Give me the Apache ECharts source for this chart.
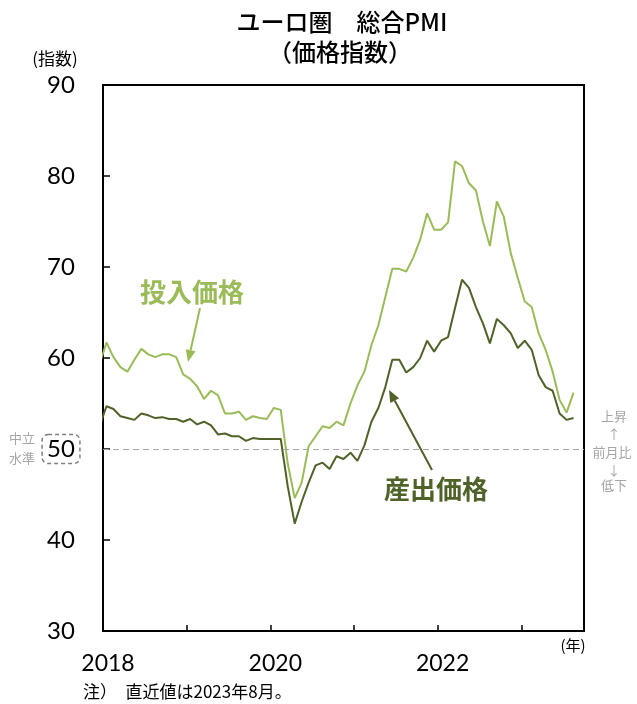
<!DOCTYPE html>
<html><head><meta charset="utf-8">
<script src="https://cdn.jsdelivr.net/npm/echarts@6/dist/echarts.min.js"></script>
<style>html,body{margin:0;padding:0;background:#fff}#c{width:637px;height:704px}</style>
</head><body><div id="c"></div>
<script>
// Monthly values from Dec 2017 (first entry, clipped at the axis) to Aug 2023
const firstMonthPos = -0.5;           // Dec 2017 on the month axis (Jan 2018 = 0.5)
const yearTickLabels = {0: '2018', 24: '2020', 48: '2022'};
const inputPrices = [
  59.3,
  61.7, 60.1, 59.0, 58.5, 59.8, 61.0, 60.4, 60.1, 60.4, 60.4, 60.1, 58.2,
  57.7, 56.9, 55.5, 56.4, 55.9, 53.9, 53.9, 54.1, 53.2, 53.6, 53.4, 53.3,
  54.5, 54.3, 48.4, 44.6, 46.3, 50.3, 51.4, 52.5, 52.3, 53.0, 52.6, 55.0,
  57.0, 58.5, 61.4, 63.6, 66.7, 69.8, 69.8, 69.5, 71.0, 73.0, 75.9, 74.1,
  74.1, 74.9, 81.6, 81.1, 79.2, 78.4, 75.0, 72.3, 77.2, 75.5, 71.5, 68.8,
  66.2, 65.6, 62.7, 60.9, 58.5, 55.4, 54.0, 56.2
];
const outputPrices = [
  52.5,
  54.7, 54.4, 53.6, 53.4, 53.2, 53.9, 53.7, 53.4, 53.5, 53.3, 53.3, 53.0,
  53.3, 52.7, 53.0, 52.6, 51.6, 51.7, 51.4, 51.4, 50.9, 51.2, 51.1, 51.1,
  51.1, 51.1, 45.9, 41.8, 44.2, 46.3, 48.2, 48.5, 47.8, 49.2, 48.9, 49.6,
  48.7, 50.4, 53.0, 54.5, 56.8, 59.8, 59.8, 58.4, 59.0, 60.0, 61.9, 60.7,
  61.9, 62.3, 65.5, 68.6, 67.7, 65.6, 63.8, 61.6, 64.3, 63.6, 62.7, 61.1,
  61.9, 60.9, 58.1, 56.8, 56.4, 53.9, 53.2, 53.4
];

const cInput = '#9BBB59';
const cOutput = '#4F6228';
const cGray = '#a6a6a6';
const jp = '"Noto Sans CJK JP", "Noto Sans", sans-serif';
const num = 'Lato, "Noto Sans", sans-serif';

function toXY(arr){ return arr.map((v,i)=>[firstMonthPos + i, v]); }

function arrow(x1,y1,x2,y2,color){
  const dx=x2-x1, dy=y2-y1, L=Math.sqrt(dx*dx+dy*dy);
  const ux=dx/L, uy=dy/L, hl=12, hw=5;
  const bx=x2-ux*hl, by=y2-uy*hl;
  return [
    {type:'line', shape:{x1:x1,y1:y1,x2:bx,y2:by}, style:{stroke:color,lineWidth:2}},
    {type:'polygon', shape:{points:[[x2,y2],[bx-uy*hw,by+ux*hw],[bx+uy*hw,by-ux*hw]]}, style:{fill:color}}
  ];
}

const chart = echarts.init(document.getElementById('c'), null, {renderer:'canvas'});
const graphics = [
  {type:'text', style:{text:'ユーロ圏　総合PMI', x:342, y:22, textAlign:'center', textVerticalAlign:'middle', font:'500 24px '+jp, fill:'#000'}},
  {type:'text', style:{text:'（価格指数）', x:340, y:52, textAlign:'center', textVerticalAlign:'middle', font:'500 24px '+jp, fill:'#000'}},
  {type:'text', style:{text:'(指数)', x:55, y:59, textAlign:'center', textVerticalAlign:'middle', font:'17px '+jp, fill:'#000'}},
  {type:'text', style:{text:'(年)', x:573, y:645, textAlign:'center', textVerticalAlign:'middle', font:'15px '+jp, fill:'#000'}},
  {type:'text', style:{text:'注）　直近値は2023年8月。', x:83, y:692, textAlign:'left', textVerticalAlign:'middle', font:'17px '+jp, fill:'#000'}},
  {type:'text', style:{text:'中立', x:22, y:438, textAlign:'center', textVerticalAlign:'middle', font:'13px '+jp, fill:cGray}},
  {type:'text', style:{text:'水準', x:22, y:458, textAlign:'center', textVerticalAlign:'middle', font:'13px '+jp, fill:cGray}},
  {type:'text', style:{text:'上昇', x:614, y:416, textAlign:'center', textVerticalAlign:'middle', font:'13px '+jp, fill:cGray}},
  {type:'text', style:{text:'↑', x:614, y:434, textAlign:'center', textVerticalAlign:'middle', font:'13px '+jp, fill:cGray}},
  {type:'text', style:{text:'前月比', x:612, y:452, textAlign:'center', textVerticalAlign:'middle', font:'13px '+jp, fill:cGray}},
  {type:'text', style:{text:'↓', x:614, y:470, textAlign:'center', textVerticalAlign:'middle', font:'13px '+jp, fill:cGray}},
  {type:'text', style:{text:'低下', x:614, y:485, textAlign:'center', textVerticalAlign:'middle', font:'13px '+jp, fill:cGray}},
  {type:'text', style:{text:'投入価格', x:192, y:292, textAlign:'center', textVerticalAlign:'middle', font:'bold 26px '+jp, fill:cInput}},
  {type:'text', style:{text:'産出価格', x:436, y:489, textAlign:'center', textVerticalAlign:'middle', font:'bold 26px '+jp, fill:cOutput}}
].concat(arrow(200,308,188,362,cInput)).concat(arrow(432,470,389,390,cOutput));

chart.setOption({
  animation:false,
  backgroundColor:'#fff',
  grid:{left:103, right:53, top:85, bottom:73, show:true, borderColor:'#000', borderWidth:2, containLabel:false},
  xAxis:{
    type:'value', min:0, max:69, interval:12,
    axisLine:{show:true, onZero:false, lineStyle:{color:'#000', width:2}},
    axisTick:{show:true, inside:true, length:6, lineStyle:{color:'#000', width:1.5}},
    axisLabel:{formatter:v=>yearTickLabels[v]||'', fontSize:23, fontFamily:num, color:'#000', margin:21, showMaxLabel:false, padding:[0,0,0,10]},
    splitLine:{show:false}
  },
  yAxis:{
    type:'value', min:30, max:90, interval:10,
    axisLine:{show:true, lineStyle:{color:'#000', width:2}},
    axisTick:{show:true, inside:true, length:7, lineStyle:{color:'#000', width:1.5}},
    axisLabel:{
      formatter:v=> v===50 ? '{b|50}' : String(v),
      fontSize:24, fontFamily:num, color:'#000', align:'center', margin:42,
      rich:{b:{fontSize:24, fontFamily:num, color:'#000', borderColor:'#7f7f7f', borderWidth:1.5, borderType:[4,3], borderRadius:6, padding:[3,5,2,5]}}
    },
    splitLine:{show:false}
  },
  series:[
    {type:'line', data:toXY(inputPrices), symbol:'none', clip:true, lineStyle:{color:cInput, width:2}, z:3},
    {type:'line', data:toXY(outputPrices), symbol:'none', clip:true, lineStyle:{color:cOutput, width:2}, z:4,
     markLine:{silent:true, symbol:'none', label:{show:false}, lineStyle:{color:cGray, type:[6,4], width:1}, data:[{yAxis:50}]}}
  ],
  graphic:graphics
});
</script></body></html>
